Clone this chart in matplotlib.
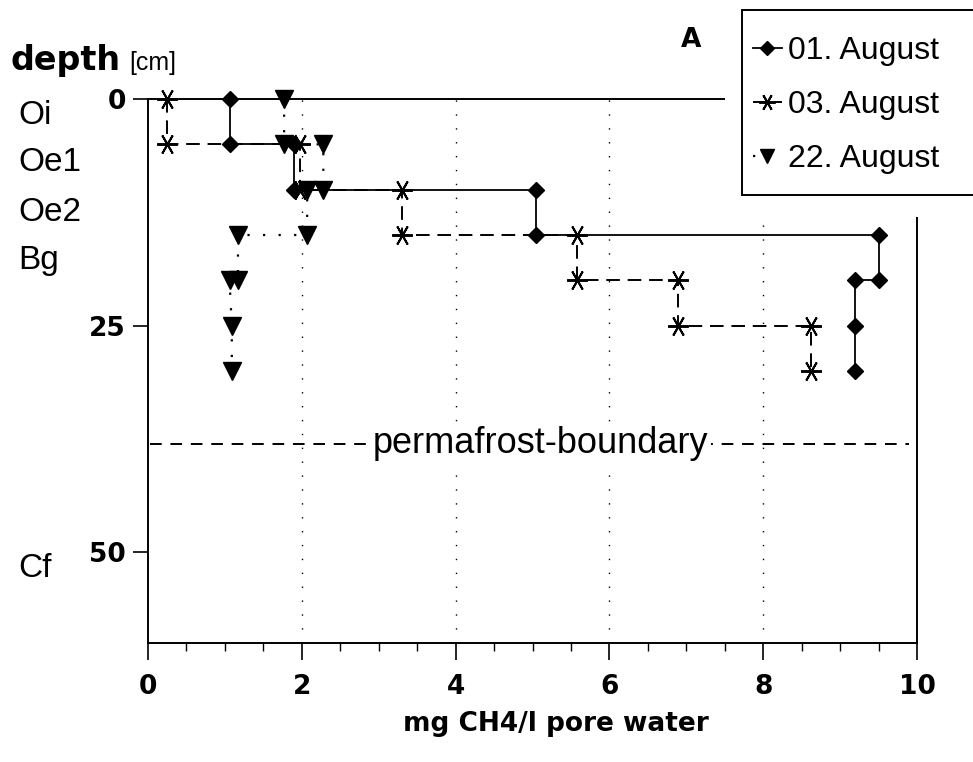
import matplotlib
matplotlib.use("Agg")
import matplotlib.pyplot as plt
from matplotlib.patches import Rectangle
from matplotlib.transforms import blended_transform_factory

# CH4 in pore water against depth, three sampling dates
aug01_x = [1.07, 1.07, 1.9, 1.9, 5.05, 5.05, 9.5, 9.5, 9.2, 9.2, 9.2]
aug01_y = [0, 5, 5, 10, 10, 15, 15, 20, 20, 25, 30]
aug03_x = [0.25, 0.25, 1.98, 1.98, 3.3, 3.3, 5.58, 5.58, 6.89, 6.89, 8.62, 8.62]
aug03_y = [0, 5, 5, 10, 10, 15, 15, 20, 20, 25, 25, 30]
aug22_x = [1.77, 1.77, 2.28, 2.28, 2.07, 2.07, 1.17, 1.17, 1.06, 1.09, 1.09]
aug22_y = [0, 5, 5, 10, 10, 15, 15, 20, 20, 25, 30]
labels = ["01. August", "03. August", "22. August"]

horizons = ["Oi", "Oe1", "Oe2", "Bg", "Cf"]
horizon_depth = [1.8, 7.0, 12.5, 17.8, 51.8]
permafrost_depth = 38
x_ticks = [0, 2, 4, 6, 8, 10]
y_ticks = [0, 25, 50]

fig = plt.figure(figsize=(9.73, 7.62), dpi=100)
ax = fig.add_axes([148 / 973, 1 - 643 / 762, 769 / 973, 544 / 762])

ax.set_xlim(0, 10)
ax.set_ylim(60, 0)

# dotted vertical grid
for gx in x_ticks[1:-1]:
    ax.axvline(gx, color="black", lw=1.0, ls=(0, (1, 9)), zorder=1)

# white area behind the legend (hides frame corner and grid)
ax.add_patch(Rectangle((7.5, -15), 4, 28, facecolor="white", edgecolor="none",
                       zorder=2.6, clip_on=False))

l1, = ax.plot(aug01_x, aug01_y, color="black", lw=1.3, ls="-", marker="D", ms=8.5,
              clip_on=False, zorder=4)
l2, = ax.plot(aug03_x, aug03_y, color="black", lw=1.4, ls=(0, (7, 4)),
              marker=(6, 2, 30), ms=15, mew=1.4, clip_on=False, zorder=4)
l3, = ax.plot(aug22_x, aug22_y, color="black", lw=1.6, ls=(0, (1, 6)), marker="v",
              ms=13, clip_on=False, zorder=4)

# permafrost boundary
ax.axhline(permafrost_depth, xmin=0.003, xmax=0.99, color="black", lw=1.4,
           ls=(0, (6, 4.5)), zorder=3)
ax.text(5.1, permafrost_depth, "permafrost-boundary", ha="center", va="center",
        fontsize=26, family="Liberation Sans", zorder=3.5,
        bbox=dict(facecolor="white", edgecolor="none", pad=2))

for s in ax.spines.values():
    s.set_linewidth(1.4)

ax.set_xticks(x_ticks)
ax.set_xticks([v / 2 for v in range(1, 20) if v % 4 != 0], minor=True)
ax.set_yticks(y_ticks)
ax.tick_params(axis="x", which="major", direction="out", length=12, width=1.2, pad=10)
ax.tick_params(axis="x", which="minor", direction="out", length=6, width=1.0)
ax.tick_params(axis="y", which="major", direction="out", length=11, width=1.2, pad=5)
for t in ax.get_xticklabels() + ax.get_yticklabels():
    t.set_fontsize(19)
    t.set_fontweight("bold")
    t.set_family("DejaVu Sans")

ax.set_xlabel("mg CH4/l pore water", fontsize=19, fontweight="bold", family="DejaVu Sans")
ax.xaxis.set_label_coords(0.53, -0.125)

# horizon names on the left
trans = blended_transform_factory(fig.transFigure, ax.transData)
for name, d in zip(horizons, horizon_depth):
    ax.text(18 / 973, d, name, transform=trans, ha="left", va="center",
            fontsize=24, family="Liberation Sans", clip_on=False)

fig.text(10 / 973, 1 - 70 / 762, "depth", fontsize=24, fontweight="bold",
         family="DejaVu Sans", va="baseline", ha="left")
fig.text(129 / 973, 1 - 70 / 762, "[cm]", fontsize=18, family="Liberation Sans",
         va="baseline", ha="left")
fig.text(691 / 973, 1 - 40 / 762, "A", fontsize=19, fontweight="bold",
         family="DejaVu Sans", va="center", ha="center")

# legend box drawn separately so it can run off the right edge
fig.patches.append(Rectangle((742 / 973, 1 - 195 / 762), 0.3, 185 / 762,
                             transform=fig.transFigure, facecolor="white",
                             edgecolor="black", lw=1.4, zorder=5))
leg = fig.legend([l1, l2, l3], labels, loc="upper left",
                 bbox_to_anchor=(753 / 973, 1 - 36 / 762), borderaxespad=0,
                 prop={"family": "Liberation Sans", "size": 23},
                 handlelength=0.9, handletextpad=0.2, labelspacing=0.75,
                 borderpad=0, frameon=False)
leg.set_zorder(6)
for h in leg.legend_handles:
    h.set_markersize(h.get_markersize() * 0.8)

fig.savefig("out.png", dpi=100)
